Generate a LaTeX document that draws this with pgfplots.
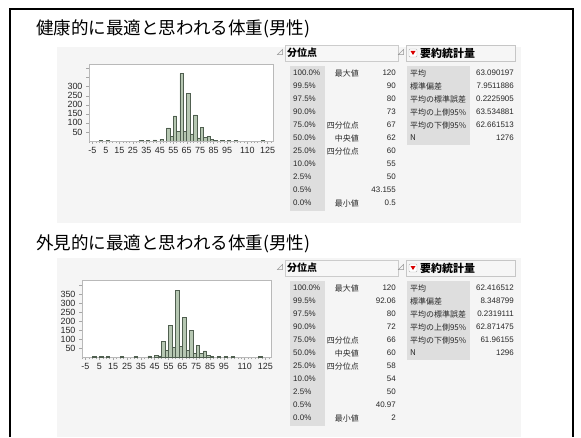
\documentclass[border=0pt]{standalone}
\usepackage{pgfplots}
\pgfplotsset{compat=1.18}
\usepackage{fontspec}
\setmainfont{Liberation Sans}
\newfontfamily\jp{Noto Sans CJK JP}
\definecolor{barfill}{RGB}{182,199,178}
\definecolor{baredge}{RGB}{80,95,80}
\definecolor{panel}{RGB}{245,245,245}
\definecolor{colgray}{RGB}{222,222,222}
\definecolor{txt}{RGB}{40,40,40}
\pgfplotsset{hist/.style={
  scale only axis, width=184bp, height=77bp,
  axis background/.style={fill=white},
  axis line style={gray!55},
  tick align=outside, tick style={gray!70, line width=0.4bp},
  major tick length=3bp, minor tick length=2bp,
  xtick={-5,5,15,25,35,45,55,65,75,85,95,110,125},
  minor xtick={-7.5,-5,...,127.5},
  ytick={50,100,...,400},
  xtick pos=left, ytick pos=left,
  tick label style={font=\fontsize{9}{10}\selectfont, text=txt},
  /pgf/number format/assume math mode=true,
  xmin=-7.5, xmax=129, ymin=0,
}}
\newcommand{\qrow}[4]{%
  \node[anchor=west,inner sep=0,font=\fontsize{8}{9}\selectfont,text=txt] at (293,#1) {#2};
  \node[anchor=east,inner sep=0,font=\jp\fontsize{8}{9}\selectfont,text=txt] at (359,#1) {#3};
  \node[anchor=east,inner sep=0,font=\fontsize{8}{9}\selectfont,text=txt] at (396,#1) {#4};}
\newcommand{\srow}[3]{%
  \node[anchor=west,inner sep=0,font=\jp\fontsize{8}{9}\selectfont,text=txt] at (410,#1) {#2};
  \node[anchor=east,inner sep=0,font=\fontsize{8}{9}\selectfont,text=txt] at (514,#1) {#3};}
\newcommand{\tableframe}{%
  \node[inner sep=0,font=\jp\fontsize{8}{9}\selectfont,text=gray] at (280,-52) {⊿};
  \draw[gray!40, fill=gray!6] (285,-45) rectangle (398,-61);
  \node[anchor=west,inner sep=0,font=\jp\bfseries\fontsize{10}{11}\selectfont] at (287,-53) {分位点};
  \fill[colgray] (290,-66) rectangle (325,-211);
  \node[inner sep=0,font=\jp\fontsize{8}{9}\selectfont,text=gray] at (401,-52) {⊿};
  \draw[gray!45, fill=gray!7] (406,-45) rectangle (515,-61);
  \draw[gray!60, fill=white, rounded corners=1bp] (409,-49) rectangle (417,-57);
  \fill[red!85!black] (410.5,-51) -- (415.5,-51) -- (413,-55) -- cycle;
  \node[anchor=west,inner sep=0,font=\jp\bfseries\fontsize{11}{12}\selectfont] at (420,-53) {要約統計量};
  \fill[colgray] (407,-66) rectangle (470,-145);}
\begin{document}
\begin{tikzpicture}[x=1bp,y=1bp]
\fill[white] (0,0) rectangle (581,-437);
\fill[panel] (57,-47) rectangle (521,-223);
\fill[panel] (57,-258) rectangle (521,-437);
\draw[line width=2bp] (10,-437) -- (10,-9) -- (573,-9) -- (573,-437);
\node[anchor=west, inner sep=0, font=\jp\fontsize{17.6}{20}\selectfont] at (36,-28.5) {健康的に最適と思われる体重(男性)};
\node[anchor=west, inner sep=0, font=\jp\fontsize{17.6}{20}\selectfont] at (36,-243.5) {外見的に最適と思われる体重(男性)};
% panel 1 tables
\tableframe
\qrow{-73}{100.0\%}{最大値}{120}
\qrow{-86}{99.5\%}{}{90}
\qrow{-99}{97.5\%}{}{80}
\qrow{-112}{90.0\%}{}{73}
\qrow{-125}{75.0\%}{四分位点}{67}
\qrow{-138}{50.0\%}{中央値}{62}
\qrow{-151}{25.0\%}{四分位点}{60}
\qrow{-164}{10.0\%}{}{55}
\qrow{-177}{2.5\%}{}{50}
\qrow{-190}{0.5\%}{}{43.155}
\qrow{-203}{0.0\%}{最小値}{0.5}
\srow{-73}{平均}{63.090197}
\srow{-86}{標準偏差}{7.9511886}
\srow{-99}{平均の標準誤差}{0.2225905}
\srow{-112}{平均の上側95\%}{63.534881}
\srow{-125}{平均の下側95\%}{62.661513}
\srow{-138}{N}{1276}
\begin{scope}[yshift=-215bp]
\tableframe
\qrow{-73}{100.0\%}{最大値}{120}
\qrow{-86}{99.5\%}{}{92.06}
\qrow{-99}{97.5\%}{}{80}
\qrow{-112}{90.0\%}{}{72}
\qrow{-125}{75.0\%}{四分位点}{66}
\qrow{-138}{50.0\%}{中央値}{60}
\qrow{-151}{25.0\%}{四分位点}{58}
\qrow{-164}{10.0\%}{}{54}
\qrow{-177}{2.5\%}{}{50}
\qrow{-190}{0.5\%}{}{40.97}
\qrow{-203}{0.0\%}{最小値}{2}
\srow{-73}{平均}{62.416512}
\srow{-86}{標準偏差}{8.348799}
\srow{-99}{平均の標準誤差}{0.2319111}
\srow{-112}{平均の上側95\%}{62.871475}
\srow{-125}{平均の下側95\%}{61.96155}
\srow{-138}{N}{1296}
\end{scope}
% histogram 1
\begin{axis}[hist, at={(89bp,-141bp)}, anchor=south west, ymax=425,
  yticklabels={50,100,150,200,250,300,{},{}}]
\addplot[ybar, bar width=2.5, bar shift=0pt, fill=barfill, draw=baredge, line width=0.5bp] coordinates {
(1.25,4) (6.25,3) (31.25,3) (36.25,4) (41.25,6) (46.25,9)
(51.25,72) (53.75,26) (56.25,138) (58.75,55) (61.25,372) (63.75,55)
(66.25,263) (68.75,39) (71.25,144) (73.75,17) (76.25,76) (78.75,18)
(81.25,26) (83.75,7) (86.25,5) (91.25,4) (96.25,4) (101.25,3) (121.25,2)};
\end{axis}
% histogram 2
\begin{axis}[hist, at={(82bp,-357bp)}, anchor=south west, width=189bp, ymax=430,
  yticklabels={50,100,150,200,250,300,350,{}}]
\addplot[ybar, bar width=2.5, bar shift=0pt, fill=barfill, draw=baredge, line width=0.5bp] coordinates {
(1.25,3) (6.25,3) (11.25,3) (21.25,3) (31.25,3) (41.25,6) (46.25,10) (48.75,7)
(51.25,86) (53.75,37) (56.25,177) (58.75,52) (61.25,374) (63.75,58)
(66.25,220) (68.75,37) (71.25,149) (73.75,19) (76.25,65) (78.75,19)
(81.25,34) (83.75,8) (86.25,5) (91.25,4) (96.25,3) (101.25,4) (121.25,3)};
\end{axis}
\end{tikzpicture}
\end{document}
